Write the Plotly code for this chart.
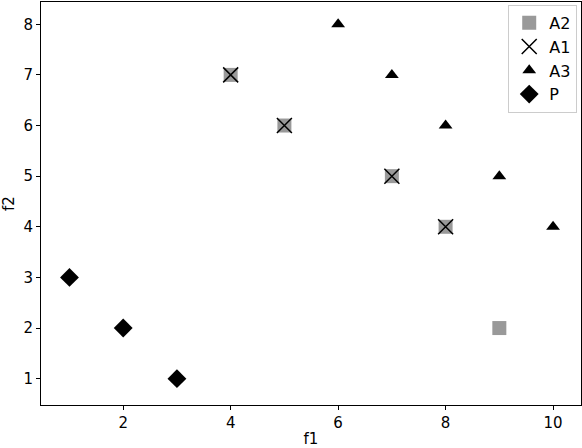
import plotly.graph_objects as go

a2_x = [4, 5, 7, 8, 9]
a2_y = [7, 6, 5, 4, 2]
a1_x = [4, 5, 7, 8]
a1_y = [7, 6, 5, 4]
a3_x = [6, 7, 8, 9, 10]
a3_y = [8, 7, 6, 5, 4]
p_x = [1, 2, 3]
p_y = [3, 2, 1]

fig = go.Figure()
fig.add_trace(go.Scatter(x=a2_x, y=a2_y, mode="markers", name="A2",
                         marker=dict(symbol="square", size=14, color="#999999")))
fig.add_trace(go.Scatter(x=a1_x, y=a1_y, mode="markers", name="A1",
                         marker=dict(symbol="x-thin", size=15, color="black",
                                     line=dict(width=1.5, color="black"))))
fig.add_trace(go.Scatter(x=a3_x, y=a3_y, mode="markers", name="A3",
                         marker=dict(symbol="triangle-up", size=12, color="black")))
fig.add_trace(go.Scatter(x=p_x, y=p_y, mode="markers", name="P",
                         marker=dict(symbol="diamond", size=14.5, color="black")))

axis_common = dict(showgrid=False, zeroline=False, showline=True, linecolor="black",
                   linewidth=1, mirror=True, ticks="outside", ticklen=4,
                   tickcolor="black", tickfont=dict(size=15, color="black"),
                   automargin=False)

fig.update_layout(
    width=582, height=448,
    margin=dict(l=41, r=1, t=2, b=43),
    plot_bgcolor="white", paper_bgcolor="white",
    font=dict(family="DejaVu Sans", size=15, color="black"),
    xaxis=dict(range=[0.47, 10.52], tickvals=[2, 4, 6, 8, 10],
               title=dict(text="f1", standoff=3, font=dict(size=15)), **axis_common),
    yaxis=dict(range=[0.48, 8.44], tickvals=[1, 2, 3, 4, 5, 6, 7, 8],
               title=dict(text="f2", standoff=5, font=dict(size=15)), **axis_common),
    legend=dict(x=0.993, y=0.993, xanchor="right", yanchor="top",
                bordercolor="#cccccc", borderwidth=1, bgcolor="rgba(255,255,255,0.8)",
                font=dict(size=16), itemwidth=30),
    showlegend=True,
)

fig.write_html("out.html", config={"displayModeBar": False},
               post_script="document.body.style.margin='0';document.body.style.padding='0';")
